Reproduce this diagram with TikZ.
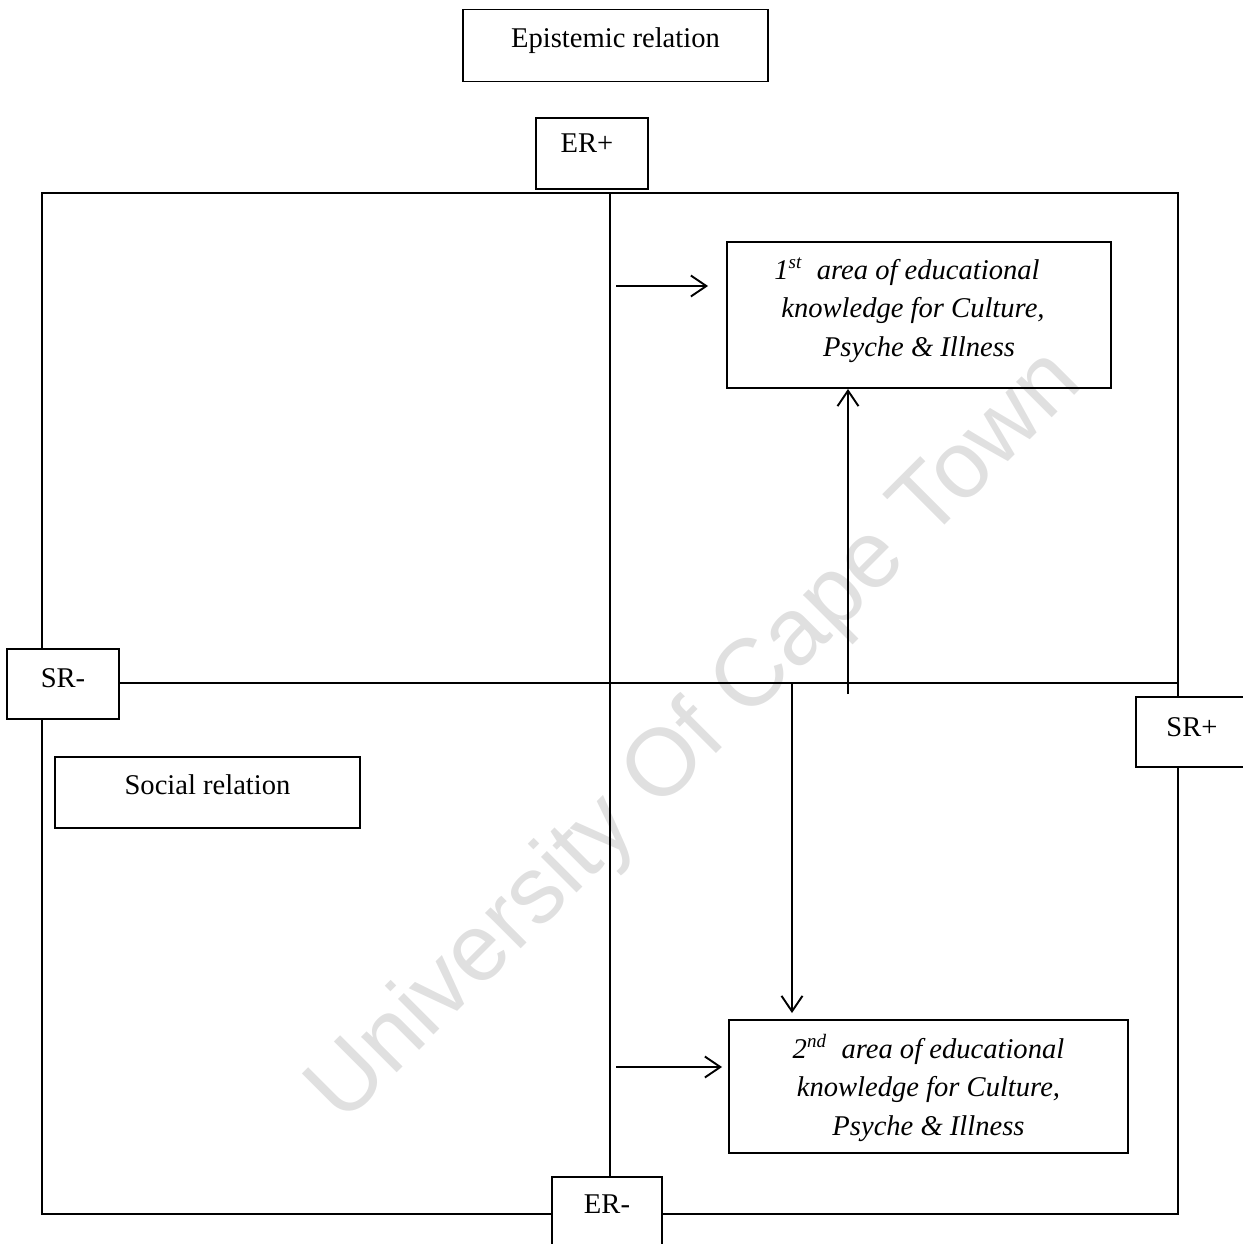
\documentclass[tikz,border=0pt]{standalone}
\usepackage{fontspec}
\setmainfont{Liberation Serif}
\newfontfamily\wmfont{Liberation Sans}
\usetikzlibrary{arrows.meta,calc}
% one drawing unit
\newdimen\pxu
\pxu=0.42pt
% a centred line of given width, moved left by #2
\newcommand\arealine[3]{\hbox to #1{\hss #3\hskip #2\hss}}
\begin{document}
\begin{tikzpicture}[x=0.42pt,y=-0.42pt,
  every node/.style={inner sep=0pt},
  label box/.style={draw, fill=white, line width=0.8pt, anchor=base,
    font=\fontsize{12}{16}\selectfont},
  area box/.style={draw, line width=0.8pt, anchor=base,
    font=\itshape\fontsize{12}{16.2}\selectfont},
  axis/.style={line width=0.8pt},
  arr/.style={line width=0.8pt, -{Straight Barb[length=6.5pt,width=8.8pt]}},
  mark text/.style={text=black!12, font=\wmfont\fontsize{40}{40}\selectfont}
]
\useasboundingbox (0,0) rectangle (1243,1244);

% repository mark behind everything
\node[mark text, rotate=45] (wm) at (697,738) {University Of Cape Town};

% outer frame and the two axes
\coordinate (fnw) at (42,193);
\coordinate (fse) at (1178,1214);
\coordinate (vtop) at (610,193);
\coordinate (vbot) at (610,1214);
\coordinate (hleft) at (42,683);
\coordinate (hright) at (1178,683);
\draw[axis] (fnw) rectangle (fse);
\draw[axis] (vtop) -- (vbot);
\draw[axis] (hleft) -- (hright);

% title and pole labels
\node[label box, minimum width=305\pxu, text height=38\pxu, text depth=34\pxu]
  (epi) at (615.5,47.5) {Epistemic relation};
\node[label box, minimum width=112\pxu, text height=34\pxu, text depth=37\pxu]
  (erp) at (592,152) {\hbox to 112\pxu{\hss ER+\hskip 10\pxu\hss}};
\node[label box, minimum width=110\pxu, text height=36\pxu, text depth=40\pxu]
  (erm) at (607,1213) {ER-};
\node[label box, minimum width=112\pxu, text height=38\pxu, text depth=32\pxu]
  (srm) at (63,687) {SR-};
\node[label box, minimum width=112\pxu, text height=39\pxu, text depth=31\pxu]
  (srp) at (1192,736) {SR+};
\node[label box, minimum width=305\pxu, text height=37.5\pxu, text depth=33.5\pxu]
  (soc) at (207.5,794.5) {Social relation};

% the two areas of knowledge
\node[area box, minimum width=384\pxu, text height=37\pxu, text depth=109\pxu]
  (b1) at (919,279) {\vtop{\baselineskip=16.2pt
    \arealine{384\pxu}{24\pxu}{1\textsuperscript{st}\ \ area of educational}
    \arealine{384\pxu}{12\pxu}{knowledge for Culture,}
    \arealine{384\pxu}{0pt}{Psyche \& Illness}}};
\node[area box, minimum width=399\pxu, text height=38\pxu, text depth=95\pxu]
  (b2) at (928.5,1058) {\vtop{\baselineskip=16.2pt
    \arealine{399\pxu}{0pt}{2\textsuperscript{nd}\ \ area of educational}
    \arealine{399\pxu}{0pt}{knowledge for Culture,}
    \arealine{399\pxu}{0pt}{Psyche \& Illness}}};

% connectors
\coordinate (a1s) at (616,286);
\coordinate (a2s) at (616,1067);
\coordinate (ups) at (848,694);
\coordinate (dns) at (792,683);
\draw[arr] (a1s) -- ($(b1.west |- a1s)+(-18,0)$);
\draw[arr] (a2s) -- ($(b2.west |- a2s)+(-6,0)$);
\draw[arr] (ups) -- (ups |- b1.south);
\draw[arr] (dns) -- ($(dns |- b2.north)+(0,-6)$);
\end{tikzpicture}
\end{document}
